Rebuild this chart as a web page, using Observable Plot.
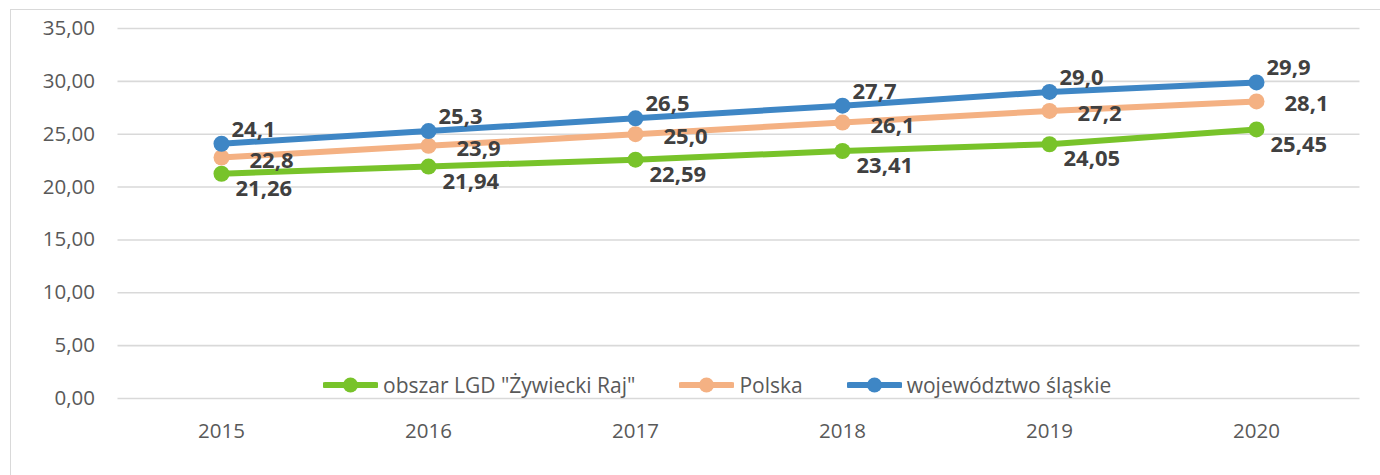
<!DOCTYPE html>
<html>
<head>
<meta charset="utf-8">
<script src="https://cdn.jsdelivr.net/npm/d3@7"></script>
<script src="https://cdn.jsdelivr.net/npm/@observablehq/plot@0.6"></script>
<style>
  html, body { margin: 0; padding: 0; background: #fff; }
  #wrap { position: relative; width: 1380px; height: 475px; overflow: hidden; font-family: "Open Sans", sans-serif; }
  #border { position: absolute; left: 10px; top: 9px; width: 1400px; height: 500px; border: 1.5px solid #d9d9d9; box-sizing: border-box; }
  #chart { position: absolute; left: 0; top: 0; }
  #legend { position: absolute; left: 323px; top: 371px; display: flex; align-items: center; font-size: 21px; color: #595959; white-space: nowrap; }
  .item { display: flex; align-items: center; margin-right: 44px; }
  .item svg { margin-right: 5px; }
</style>
</head>
<body>
<div id="wrap">
  <div id="border"></div>
  <div id="chart"></div>
  <div id="legend"></div>
</div>
<script>
const years = ["2015", "2016", "2017", "2018", "2019", "2020"];
const seriesNames = ['obszar LGD "Żywiecki Raj"', "Polska", "województwo śląskie"];
const lgdValues = [21.26, 21.94, 22.59, 23.41, 24.05, 25.45];
const polskaValues = [22.8, 23.9, 25.0, 26.1, 27.2, 28.1];
const slaskieValues = [24.1, 25.3, 26.5, 27.7, 29.0, 29.9];
const yTicks = [0, 5, 10, 15, 20, 25, 30, 35];

const colors = ["#78c32a", "#f4b183", "#3e86c5"];
const decimals = [2, 1, 1];
const labelOffsets = [{dx: 14, dy: 15}, {dx: 28, dy: 3}, {dx: 10, dy: -14}];
const allValues = [lgdValues, polskaValues, slaskieValues];

const fmt = (v, d) => v.toFixed(d).replace(".", ",");

const data = [];
seriesNames.forEach((s, i) => {
  years.forEach((y, j) => data.push({series: s, idx: i, year: y, value: allValues[i][j], label: fmt(allValues[i][j], decimals[i])}));
});

const marks = [
  Plot.ruleY(yTicks, {stroke: "#d9d9d9", strokeWidth: 1.6}),
  Plot.axisY({ticks: yTicks, tickSize: 0, tickPadding: 23, tickFormat: d => fmt(d, 2), fontSize: 20.5, fill: "#595959", label: null}),
  Plot.axisX({tickSize: 0, tickPadding: 25, fontSize: 20.5, fill: "#595959", label: null})
];
seriesNames.forEach((s, i) => {
  const sub = data.filter(d => d.idx === i);
  marks.push(Plot.line(sub, {x: "year", y: "value", stroke: colors[i], strokeWidth: 6, curve: "linear"}));
  marks.push(Plot.dot(sub, {x: "year", y: "value", fill: colors[i], r: 8, stroke: "none"}));
});
seriesNames.forEach((s, i) => {
  const sub = data.filter(d => d.idx === i);
  marks.push(Plot.text(sub, {x: "year", y: "value", text: "label", dx: labelOffsets[i].dx, dy: labelOffsets[i].dy,
    fontSize: 22, fontWeight: "bold", fill: "#404040", lineAnchor: "middle", textAnchor: "start"}));
});

const chart = Plot.plot({
  width: 1380,
  height: 475,
  marginLeft: 117.5,
  marginRight: 20.5,
  marginTop: 28,
  marginBottom: 77,
  style: {fontFamily: "Open Sans", background: "transparent", overflow: "visible"},
  x: {type: "point", domain: years, padding: 0.5},
  y: {domain: [0, 35]},
  marks
});
document.getElementById("chart").appendChild(chart);

const legend = document.getElementById("legend");
seriesNames.forEach((s, i) => {
  const item = document.createElement("div");
  item.className = "item";
  item.innerHTML = `<svg width="55" height="16"><line x1="2" y1="8" x2="53" y2="8" stroke="${colors[i]}" stroke-width="6" stroke-linecap="round"/><circle cx="27.5" cy="8" r="7.5" fill="${colors[i]}"/></svg><span>${s.replace(/"/g, "&quot;")}</span>`;
  legend.appendChild(item);
});
</script>
</body>
</html>
